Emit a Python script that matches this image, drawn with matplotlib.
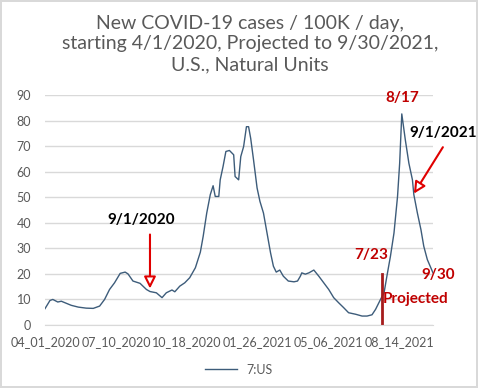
import matplotlib
matplotlib.use("Agg")
import matplotlib.pyplot as plt

# ---- data ----
day_offsets = [0, 7, 11, 18, 23, 30, 37, 47, 58, 68, 77, 84, 91, 98, 106, 113, 117, 124,
               134, 143, 148, 157, 165, 171, 179, 183, 190, 197, 204, 212, 219, 223, 228,
               233, 237, 240, 245, 247, 251, 255, 260, 266, 268, 273, 276, 280, 284, 287,
               290, 294, 299, 303, 308, 313, 318, 322, 326, 331, 336, 343, 351, 356, 360,
               362, 367, 372, 379, 386, 393, 400, 407, 414, 421, 428, 438, 447, 454, 461,
               466, 473, 478, 482, 487, 492, 497, 500, 503, 508, 513, 518, 520, 525, 530,
               534, 539, 547]
cases = [6.4, 9.6, 10.0, 9.0, 9.3, 8.5, 7.7, 7.0, 6.6, 6.5, 7.4, 10.0, 13.9, 16.5, 20.2,
         20.7, 20.0, 17.2, 16.3, 13.9, 13.1, 12.6, 10.7, 12.6, 13.7, 13.0, 15.2, 16.5, 18.5,
         22.4, 28.5, 34.7, 43.8, 51.0, 54.5, 50.3, 50.3, 56.8, 62.0, 67.9, 68.3, 66.6, 58.1,
         56.8, 65.9, 69.8, 77.6, 77.6, 73.0, 64.6, 53.6, 48.4, 43.8, 36.0, 28.2, 23.0, 20.7,
         21.5, 19.1, 17.2, 16.9, 17.2, 19.1, 20.4, 19.9, 20.4, 21.5, 19.1, 16.5, 13.9, 10.7,
         8.7, 6.8, 4.8, 4.2, 3.5, 3.5, 4.0, 6.1, 10.0, 12.6, 19.1, 26.9, 36.0, 50.3, 63.3,
         82.6, 72.4, 63.3, 56.8, 51.0, 43.8, 37.3, 30.8, 25.6, 20.4]
tick_days = [0, 100, 200, 300, 400, 500]
tick_labels = ["04_01_2020", "07_10_2020", "10_18_2020", "01_26_2021", "05_06_2021", "08_14_2021"]
y_ticks = [0, 10, 20, 30, 40, 50, 60, 70, 80, 90]
series_name = "7:US"
title = "New COVID-19 cases / 100K / day,\nstarting 4/1/2020, Projected to 9/30/2021,\nU.S., Natural Units"

# ---- figure ----
W, H = 478, 388
fig = plt.figure(figsize=(W / 100, H / 100), dpi=100)
fig.patch.set_edgecolor("#d9d9d9")
fig.patch.set_linewidth(1.5)
plt.rcParams['font.family'] = ['Lato', 'DejaVu Sans']

ax = fig.add_axes([45 / W, 1 - 325 / H, (433 - 45) / W, (325 - 95) / H])
ax.plot(day_offsets, cases, color="#3d5c7a", lw=1.0, label=series_name)
ax.set_xlim(0, 547)
ax.set_ylim(0, 90)
ax.set_yticks(y_ticks)
ax.set_xticks(tick_days)
ax.set_xticklabels(tick_labels)
ax.grid(axis="y", color="#d9d9d9", lw=1)
ax.set_axisbelow(True)
for s in ["top", "right", "left"]:
    ax.spines[s].set_visible(False)
ax.spines["bottom"].set_color("#d9d9d9")
ax.tick_params(axis="both", length=0, colors="#595959", labelsize=9)
ax.tick_params(axis="y", pad=10)
ax.tick_params(axis="x", pad=8)

fig.text(0.523, 1 - 15 / H, title, ha="center", va="top", fontsize=14,
         color="#595959", linespacing=1.25)

leg = ax.legend(loc="upper center", bbox_to_anchor=(0.5, -0.12), frameon=False,
                fontsize=9, handlelength=2.5, labelcolor="#595959")

# annotations
red = "#e00000"
dark_red = "#c00000"
ax.annotate("", xy=(148, 13.2), xytext=(148, 36.5),
            arrowprops=dict(arrowstyle="-|>,head_width=0.35,head_length=0.7",
                            color=red, fc="white", lw=1.5))
ax.text(136, 38.5, "9/1/2020", ha="center", va="bottom", fontsize=11,
        fontweight="bold", color="black")
ax.annotate("", xy=(518, 50.5), xytext=(563, 70.5),
            arrowprops=dict(arrowstyle="-|>,head_width=0.35,head_length=0.7",
                            color=red, fc="white", lw=1.5), annotation_clip=False)
ax.text(562, 72.5, "9/1/2021", ha="center", va="bottom", fontsize=11,
        fontweight="bold", color="black", clip_on=False)
ax.text(503, 86, "8/17", ha="center", va="bottom", fontsize=11,
        fontweight="bold", color=dark_red)
ax.text(460, 24.5, "7/23", ha="center", va="bottom", fontsize=11,
        fontweight="bold", color=dark_red)
ax.text(555, 17, "9/30", ha="center", va="bottom", fontsize=11,
        fontweight="bold", color=dark_red, clip_on=False)
ax.text(522, 7.5, "Projected", ha="center", va="bottom", fontsize=11,
        fontweight="bold", color=dark_red)
ax.plot([475, 475], [0, 20], color="#a51c1c", lw=2)

fig.savefig("out.png", dpi=100)
